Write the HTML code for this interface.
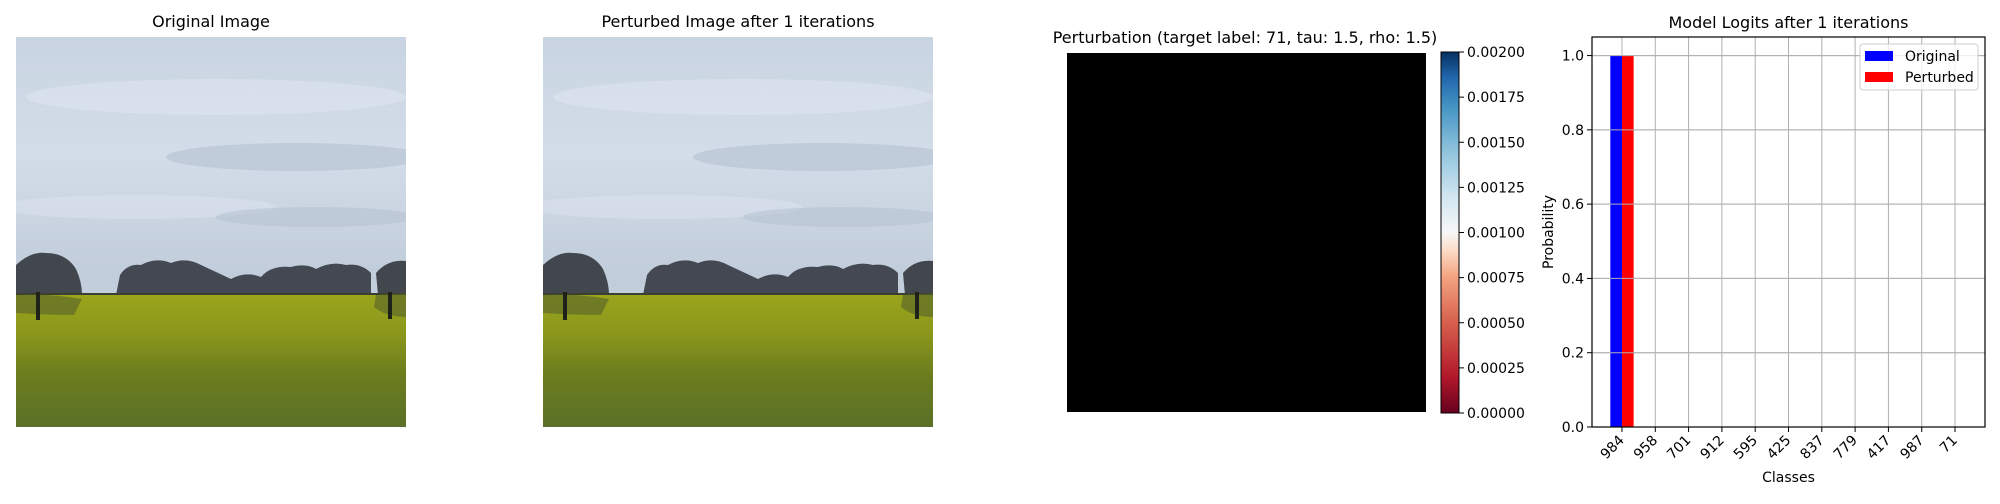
<!DOCTYPE html>
<html><head><meta charset="utf-8"><style>
body{margin:0;background:#fff;width:2000px;height:500px;overflow:hidden;font-family:"DejaVu Sans","Liberation Sans",sans-serif}
svg text{font-family:"DejaVu Sans","Liberation Sans",sans-serif}
</style></head><body>
<svg id="fig" width="2000" height="500" xmlns="http://www.w3.org/2000/svg">
<defs>
<clipPath id="pclip"><rect x="0" y="0" width="390" height="390"/></clipPath>
<linearGradient id="sky" x1="0" y1="0" x2="0" y2="1">
<stop offset="0" stop-color="#c9d4e2"/><stop offset="0.3" stop-color="#d3dde9"/><stop offset="0.6" stop-color="#c2cddb"/><stop offset="1" stop-color="#c6d1de"/></linearGradient>
<linearGradient id="field" x1="0" y1="0" x2="0" y2="1">
<stop offset="0" stop-color="#9aa41c"/><stop offset="0.3" stop-color="#8a971c"/><stop offset="0.6" stop-color="#6b7d1e"/><stop offset="1" stop-color="#5b7028"/></linearGradient>
<linearGradient id="rdbu" x1="0" y1="1" x2="0" y2="0">
<stop offset="0" stop-color="#67001f"/><stop offset="0.1" stop-color="#b2182b"/><stop offset="0.25" stop-color="#d6604d"/><stop offset="0.38" stop-color="#f4a582"/><stop offset="0.45" stop-color="#fddbc7"/><stop offset="0.5" stop-color="#f7f7f7"/><stop offset="0.6" stop-color="#d1e5f0"/><stop offset="0.72" stop-color="#92c5de"/><stop offset="0.85" stop-color="#4393c3"/><stop offset="0.93" stop-color="#2166ac"/><stop offset="1" stop-color="#053061"/></linearGradient>
<g id="photo">
<g clip-path="url(#pclip)">
<rect x="0" y="0" width="390" height="390" fill="url(#sky)"/>
<ellipse cx="200" cy="60" rx="190" ry="18" fill="#dde5ef" opacity="0.6"/>
<ellipse cx="280" cy="120" rx="130" ry="14" fill="#aebccc" opacity="0.5"/>
<ellipse cx="120" cy="170" rx="140" ry="12" fill="#dbe3ed" opacity="0.5"/>
<ellipse cx="300" cy="180" rx="100" ry="10" fill="#b3c0cf" opacity="0.5"/>
<path d="M100 258 L104 238 Q112 226 125 228 Q140 220 155 226 Q170 220 185 228 Q200 235 215 242 Q230 234 245 240 Q255 228 275 230 Q290 226 300 232 Q315 224 330 228 Q345 226 355 236 L355 258 Z" fill="#353a42" opacity="0.9"/>
<path d="M0 258 L0 228 Q15 214 30 216 Q50 216 60 232 Q66 245 66 258 Z" fill="#33383d" opacity="0.9"/>
<path d="M362 258 L360 236 Q372 222 390 224 L390 258 Z" fill="#33383d" opacity="0.9"/>
<rect x="0" y="256" width="390" height="3" fill="#3a4030"/>
<rect x="0" y="258" width="390" height="132" fill="url(#field)"/>
<path d="M0 258 Q30 256 66 262 L58 278 Q30 278 0 276 Z" fill="#55622a" opacity="0.6"/>
<rect x="20" y="255" width="4" height="28" fill="#1e2218"/>
<path d="M360 258 L390 256 L390 280 Q370 280 358 270 Z" fill="#55622a" opacity="0.6"/>
<rect x="372" y="255" width="4" height="27" fill="#1e2218"/>
</g>
</g>
</defs>
<text x="211" y="27" font-size="16" text-anchor="middle">Original Image</text>
<use href="#photo" x="16" y="37"/>
<text x="738" y="27" font-size="16" text-anchor="middle">Perturbed Image after 1 iterations</text>
<use href="#photo" x="543" y="37"/>
<text x="1245" y="43" font-size="16" text-anchor="middle">Perturbation (target label: 71, tau: 1.5, rho: 1.5)</text>
<rect x="1067" y="53" width="359" height="359" fill="#000"/>
<rect x="1441" y="52" width="18" height="361" fill="url(#rdbu)" stroke="#000" stroke-width="1"/>
<g id="cbticks"></g>
<g id="bar"></g>
</svg>
<script>
const cbTicks=["0.00000","0.00025","0.00050","0.00075","0.00100","0.00125","0.00150","0.00175","0.00200"];
const classes=["984","958","701","912","595","425","837","779","417","987","71"];
const originalProbs=[1.0,0,0,0,0,0,0,0,0,0,0];
const perturbedProbs=[1.0,0,0,0,0,0,0,0,0,0,0];
const yTicks=[0,0.2,0.4,0.6,0.8,1.0];
const NS="http://www.w3.org/2000/svg";
function mk(t,a,p){const e=document.createElementNS(NS,t);for(const k in a)e.setAttribute(k,a[k]);p.appendChild(e);return e;}
const cb=document.getElementById('cbticks');
const cbY=v=>413-(v/0.002)*361;
cbTicks.forEach(t=>{const y=cbY(parseFloat(t));
const l=mk('line',{x1:1459,x2:1464,y1:y,y2:y,stroke:'#000'},cb);


const tx=mk('text',{x:1467,y:y+5,'font-size':14},cb);tx.textContent=t;

});
const g=document.getElementById('bar');
const L=1592,R=1985,T=37,B=427;
const xS=i=>L+(i+0.9)*(R-L)/11.8;
const yS=v=>B-v/1.05*(B-T);
const bw=0.35*(R-L)/11.8;
yTicks.forEach(v=>{const y=yS(v);
const gl=mk('line',{x1:L,x2:R,y1:y,y2:y,stroke:'#b0b0b0','stroke-width':1},g);


mk('line',{x1:L-5,x2:L,y1:y,y2:y,stroke:'#000'},g);
const t=mk('text',{x:L-8,y:y+5,'font-size':14,'text-anchor':'end'},g);t.textContent=v.toFixed(1);

});
classes.forEach((c,i)=>{const x=xS(i);
const gl=mk('line',{x1:x,x2:x,y1:T,y2:B,stroke:'#b0b0b0','stroke-width':1},g);


mk('line',{x1:x,x2:x,y1:B,y2:B+5,stroke:'#000'},g);
const t=mk('text',{x:x+3,y:B+14,'font-size':14,'text-anchor':'end',transform:`rotate(-45 ${x+3} ${B+14})`},g);t.textContent=c;

});
originalProbs.forEach((v,i)=>{if(v<=0)return;const r=mk('rect',{x:xS(i)-bw,y:yS(v),width:bw,height:B-yS(v),fill:'#0000ff'},g);

});
perturbedProbs.forEach((v,i)=>{if(v<=0)return;const r=mk('rect',{x:xS(i),y:yS(v),width:bw,height:B-yS(v),fill:'#ff0000'},g);

});
yTicks.forEach(v=>{const y=yS(v);const l=mk('line',{x1:L,x2:R,y1:y,y2:y,stroke:'#b0b0b0'},g);

});
const ax=mk('rect',{x:L,y:T,width:R-L,height:B-T,fill:'none',stroke:'#000','stroke-width':1.2},g);


const tt=mk('text',{x:(L+R)/2,y:28,'font-size':16,'text-anchor':'middle'},g);tt.textContent='Model Logits after 1 iterations';


const xl=mk('text',{x:(L+R)/2,y:482,'font-size':14,'text-anchor':'middle'},g);xl.textContent='Classes';


const yl=mk('text',{x:0,y:0,'font-size':14,'text-anchor':'middle',transform:`translate(1553 ${(T+B)/2}) rotate(-90)`},g);yl.textContent='Probability';


const lg=mk('g',{},g);


mk('rect',{x:1860,y:44,width:118,height:46,rx:3,fill:'#fff','fill-opacity':0.8,stroke:'#ccc'},lg);
[['Original','#0000ff',56],['Perturbed','#ff0000',77]].forEach(([n,c,y])=>{
const e=mk('g',{},lg);


mk('rect',{x:1865,y:y-5,width:28,height:10,fill:c},e);
const t=mk('text',{x:1905,y:y+5,'font-size':14},e);t.textContent=n;});
</script>
</body></html>
